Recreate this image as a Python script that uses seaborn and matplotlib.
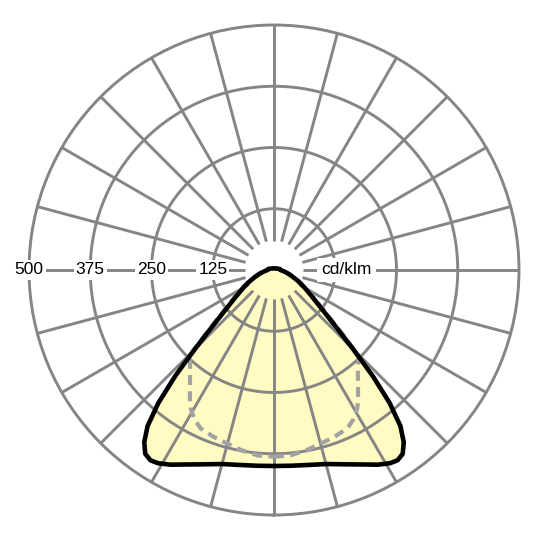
import numpy as np
import pandas as pd
import seaborn as sns
import matplotlib.pyplot as plt

# luminous intensity (cd/klm) against gamma angle, 0 = straight down
gamma = [0, 5, 10, 15, 20, 25, 28, 31, 33, 35, 37, 39, 41, 43, 44, 45, 47, 50,
         55, 60, 65, 70, 75, 80, 85, 90, 100, 110, 120, 135, 150, 165, 180]
c0_c180 = [400, 401, 404, 410, 422, 438, 450, 460, 463, 458, 440, 410, 360, 295,
           258, 228, 180, 135, 95, 72, 55, 41, 31, 23, 17, 13, 12, 8, 6, 4.5, 3.8, 3.5, 3.5]
c90_c270 = [381, 380, 374, 367, 362, 356, 345, 330, 315, 299, 285, 272, 261, 252,
            249, 236, 190, 142, 100, 76, 58, 44, 33, 24, 18, 14, 12, 8, 6, 4.5, 3.8, 3.5, 3.5]

ring_values = [125, 250, 375, 500]
ring_labels = ['125', '250', '375', '500']
unit_label = 'cd/klm'
r_max = 500
r_inner = 60


def both_sides(angles, values):
    # mirror one half plane onto the other side
    ang = np.deg2rad(np.concatenate([angles, 360 - np.array(angles[::-1])]))
    val = np.concatenate([values, values[::-1]])
    return ang, val


sns.set_style('white')
plt.rcParams['font.family'] = ['Liberation Sans', 'DejaVu Sans']

fig = plt.figure(figsize=(5.4, 5.4), dpi=100)
ax = fig.add_axes([0.0537, 0.0463, 0.9074, 0.9074], projection='polar')
ax.set_theta_zero_location('S')
ax.set_ylim(0, r_max)
ax.set_xticks([])
ax.set_yticks([])
ax.grid(False)
ax.spines['polar'].set_color('#858585')
ax.spines['polar'].set_linewidth(2.1)

grid_kw = dict(color='#858585', lw=2.1, zorder=2, solid_capstyle='butt')

# fill under the C0-C180 curve
th0, r0 = both_sides(gamma, c0_c180)
ax.fill(th0, r0, color='#fffbc2', zorder=1, lw=0)

# rings
full = np.linspace(0, 2 * np.pi, 361)
for rv in ring_values[:-1]:
    ax.plot(full, np.full_like(full, rv), **grid_kw)

# spokes every 15 degrees
for a in range(0, 360, 15):
    t = np.deg2rad(a)
    ax.plot([t, t], [r_inner, r_max], **grid_kw)

# curves
th1, r1 = both_sides(gamma, c90_c270)
df0 = pd.DataFrame({'theta': th0, 'r': r0})
df1 = pd.DataFrame({'theta': th1, 'r': r1})
sns.lineplot(data=df1, x='theta', y='r', sort=False, estimator=None, ax=ax,
             color='#a3a3a3', lw=3.0, linestyle=(0, (2.4, 1.5)), zorder=3)
sns.lineplot(data=df0, x='theta', y='r', sort=False, estimator=None, ax=ax,
             color='black', lw=3.3, zorder=4)
ax.set_xlabel('')
ax.set_ylabel('')

# scale labels along the left horizontal, unit on the right
box = dict(facecolor='white', edgecolor='none', pad=1.5)
for rv, lab in zip(ring_values, ring_labels):
    ax.text(np.deg2rad(270), rv, lab, ha='center', va='center', fontsize=12.5,
            color='black', bbox=box, zorder=5)
ax.text(np.deg2rad(90), 148, unit_label, ha='center', va='center', fontsize=12.5,
        color='black', bbox=dict(facecolor='white', edgecolor='none', pad=3), zorder=5)

fig.savefig('out.png', dpi=100)
